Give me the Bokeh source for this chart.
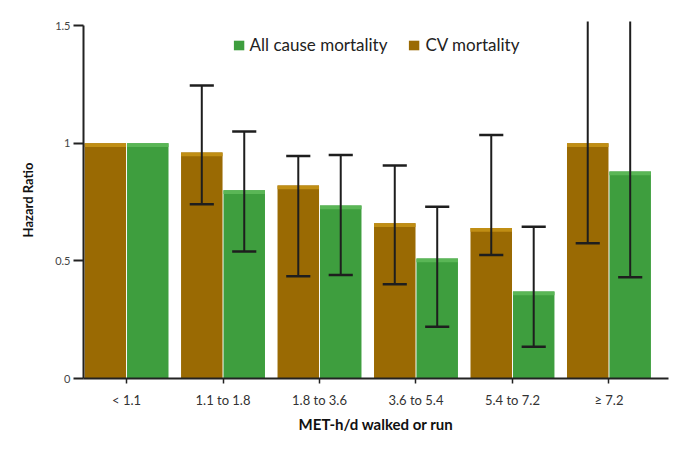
import math
from bokeh.plotting import figure
from bokeh.models import (ColumnDataSource, Range1d, FixedTicker, Legend, LegendItem)
from bokeh.embed import file_html
from bokeh.resources import INLINE

# ---- data ----
categories = ["< 1.1", "1.1 to 1.8", "1.8 to 3.6", "3.6 to 5.4", "5.4 to 7.2", "\u2265 7.2"]
cv_hr = [1.0, 0.96, 0.82, 0.66, 0.64, 1.0]
cv_lo = [None, 0.74, 0.435, 0.40, 0.525, 0.575]
cv_hi = [None, 1.245, 0.945, 0.905, 1.035, 1.75]
all_hr = [1.0, 0.80, 0.735, 0.51, 0.37, 0.88]
all_lo = [None, 0.54, 0.44, 0.22, 0.135, 0.43]
all_hi = [None, 1.05, 0.95, 0.73, 0.645, 1.78]
y_ticks = [0, 0.5, 1, 1.5]
y_tick_labels = ["0", "0.5", "1", "1.5"]

FONT = "Lato"
BROWN = "#9A6A03"
BROWN_HI = "#C08E14"
GREEN = "#3E9E3E"
GREEN_HI = "#5AB656"
OFF = 0.22
W = 0.43
CAP = 0.125
HL = 0.016

idx = list(range(len(categories)))

p = figure(width=673, height=447, output_backend="svg", toolbar_location=None,
           x_range=Range1d(-0.446, 5.617), y_range=Range1d(0, 1.517),
           min_border_left=83, min_border_right=5, min_border_top=21,
           min_border_bottom=69)
p.background_fill_color = "white"
p.border_fill_color = "white"
p.outline_line_color = None
p.grid.visible = False

cv_src = ColumnDataSource(dict(x=[i - OFF for i in idx], top=cv_hr,
                               hb=[v - HL for v in cv_hr]))
all_src = ColumnDataSource(dict(x=[i + OFF for i in idx], top=all_hr,
                                hb=[v - HL for v in all_hr]))

r_cv = p.vbar(x="x", top="top", bottom=0, width=W, source=cv_src,
              fill_color=BROWN, line_color=None)
p.vbar(x="x", top="top", bottom="hb", width=W, source=cv_src,
       fill_color=BROWN_HI, line_color=None)
r_all = p.vbar(x="x", top="top", bottom=0, width=W, source=all_src,
               fill_color=GREEN, line_color=None)
p.vbar(x="x", top="top", bottom="hb", width=W, source=all_src,
       fill_color=GREEN_HI, line_color=None)

# error bars
ex, elo, ehi = [], [], []
for i in idx:
    if cv_lo[i] is not None:
        ex.append(i - OFF); elo.append(cv_lo[i]); ehi.append(cv_hi[i])
    if all_lo[i] is not None:
        ex.append(i + OFF); elo.append(all_lo[i]); ehi.append(all_hi[i])
err = ColumnDataSource(dict(x=ex, lo=elo, hi=ehi,
                            x0=[v - CAP for v in ex], x1=[v + CAP for v in ex]))
EC = "#1e1e1e"
p.segment(x0="x", y0="lo", x1="x", y1="hi", source=err, line_color=EC, line_width=2)
p.segment(x0="x0", y0="lo", x1="x1", y1="lo", source=err, line_color=EC, line_width=2.5)
p.segment(x0="x0", y0="hi", x1="x1", y1="hi", source=err, line_color=EC, line_width=2.5)

# axes
xa = p.xaxis[0]
xa.ticker = FixedTicker(ticks=idx)
xa.major_label_overrides = {i: c for i, c in zip(idx, categories)}
xa.axis_line_width = 2
xa.axis_line_color = "#222222"
xa.major_tick_line_color = "#222222"
xa.major_tick_line_width = 1.5
xa.major_tick_out = 5
xa.major_tick_in = 0
xa.minor_tick_line_color = None
xa.major_label_text_font = FONT
xa.major_label_text_font_size = "13px"
xa.major_label_text_color = "#333333"
xa.major_label_standoff = 8
xa.axis_label = "MET-h/d walked or run"
xa.axis_label_text_font = FONT
xa.axis_label_text_font_size = "15px"
xa.axis_label_text_font_style = "bold"
xa.axis_label_text_color = "#111111"
xa.axis_label_standoff = 4

ya = p.yaxis[0]
ya.ticker = FixedTicker(ticks=y_ticks)
ya.major_label_overrides = {t: l for t, l in zip(y_ticks, y_tick_labels)}
ya.bounds = (0, 1.5)
ya.axis_line_width = 2
ya.axis_line_color = "#222222"
ya.major_tick_line_color = "#222222"
ya.major_tick_line_width = 2
ya.major_tick_out = 10
ya.major_tick_in = 0
ya.minor_tick_line_color = None
ya.major_label_text_font = FONT
ya.major_label_text_font_size = "11px"
ya.major_label_text_color = "#444444"
ya.major_label_standoff = 3
ya.axis_label = "Hazard Ratio"
ya.axis_label_text_font = FONT
ya.axis_label_text_font_size = "13px"
ya.axis_label_text_font_style = "bold"
ya.axis_label_text_color = "#111111"
ya.axis_label_standoff = 16

legend = Legend(items=[LegendItem(label="All cause mortality", renderers=[r_all]),
                       LegendItem(label="CV mortality", renderers=[r_cv])],
                orientation="horizontal", location="top_center",
                border_line_color=None, background_fill_alpha=0,
                label_text_font=FONT, label_text_font_size="17px",
                label_text_color="#222222",
                glyph_width=13, glyph_height=12, label_standoff=5,
                spacing=20, padding=4, margin=13)
p.add_layout(legend)

open("out.html", "w").write(file_html(p, INLINE))
